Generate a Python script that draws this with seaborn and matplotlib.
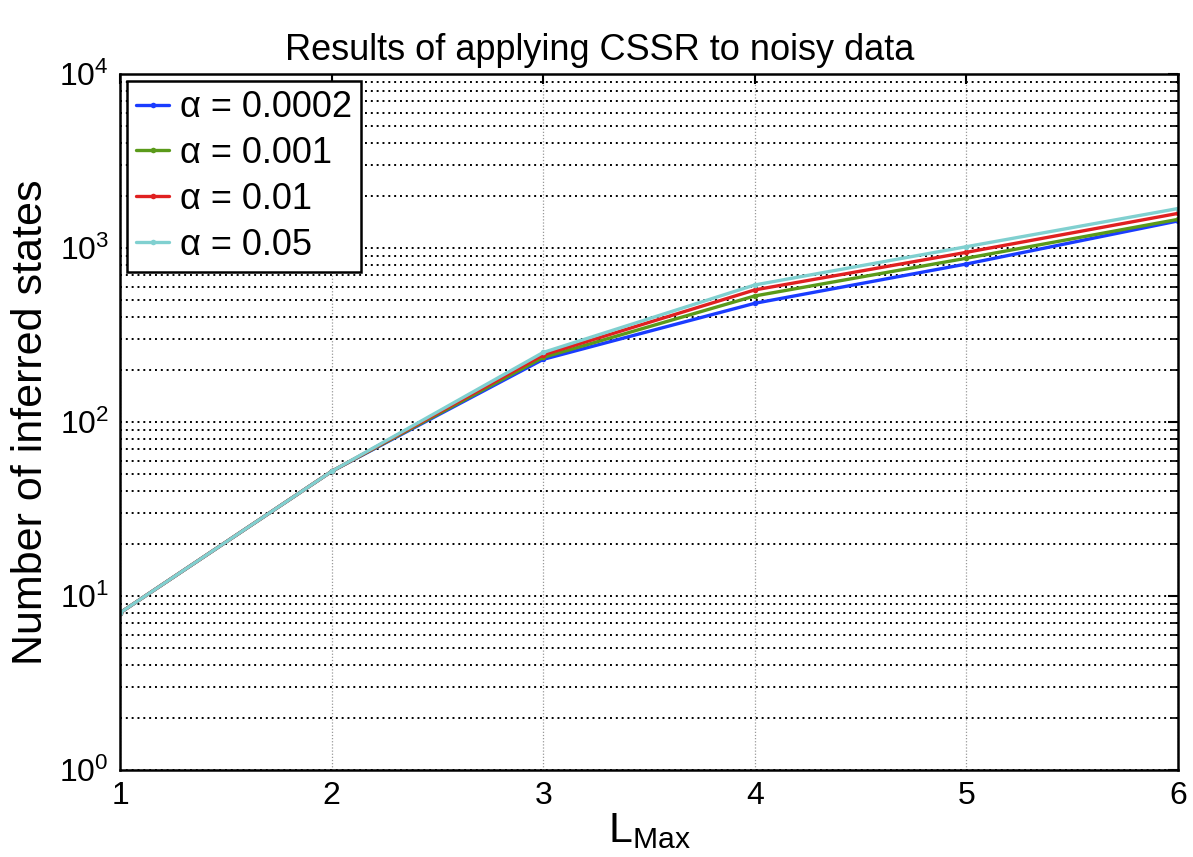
import numpy as np
import pandas as pd
import seaborn as sns
import matplotlib
matplotlib.use("Agg")
import matplotlib.pyplot as plt
from matplotlib.ticker import LogLocator, NullFormatter

# values
l_max = [1, 2, 3, 4, 5, 6]
alpha_labels = ["α = 0.0002", "α = 0.001", "α = 0.01", "α = 0.05"]
states_a0002 = [8, 52, 229, 481, 809, 1430]
states_a001 = [8, 52, 235, 530, 873, 1460]
states_a01 = [8, 52, 243, 574, 944, 1580]
states_a05 = [8, 52, 251, 613, 1017, 1685]
line_colors = ["#1a3cff", "#5a9a1a", "#e02020", "#80d0d0"]

rows = []
for label, vals in zip(alpha_labels, [states_a0002, states_a001, states_a01, states_a05]):
    for x, y in zip(l_max, vals):
        rows.append({"L": x, "states": y, "alpha": label})
df = pd.DataFrame(rows)

sns.set_theme(style="white")
plt.rcParams["font.family"] = ["Liberation Sans", "DejaVu Sans"]
plt.rcParams["mathtext.fontset"] = "custom"
plt.rcParams["mathtext.rm"] = "Liberation Sans"
plt.rcParams["text.color"] = "black"
plt.rcParams["axes.labelcolor"] = "black"
plt.rcParams["xtick.color"] = "black"
plt.rcParams["ytick.color"] = "black"

fig = plt.figure(figsize=(11.93, 8.57), dpi=100)
ax = fig.add_axes([0.1006, 0.1015, 0.8868, 0.8122])

sns.lineplot(data=df, x="L", y="states", hue="alpha", palette=line_colors,
             marker="o", markersize=4, markeredgewidth=0, linewidth=2.4, ax=ax)

ax.set_yscale("log")
ax.set_xlim(1, 6)
ax.set_ylim(1, 1e4)
ax.set_xticks(l_max)
ax.yaxis.set_major_locator(LogLocator(base=10, numticks=10))
ax.yaxis.set_minor_locator(LogLocator(base=10, subs=np.arange(2, 10), numticks=20))
ax.yaxis.set_minor_formatter(NullFormatter())

ax.grid(True, axis="y", which="both", color="black", linestyle=(0, (1, 2)), linewidth=1.4)
ax.grid(True, axis="x", which="major", color="#999999", linestyle=(0, (1, 1.5)), linewidth=0.9)

ax.tick_params(axis="both", which="major", direction="in", length=7, width=1.5,
               labelsize=23, top=True, right=True, pad=8)
ax.tick_params(axis="y", which="minor", direction="in", length=4, width=1.2, right=True)
for sp in ax.spines.values():
    sp.set_linewidth(1.8)
    sp.set_color("black")

ax.set_title("Results of applying CSSR to noisy data", fontsize=26, pad=10, x=0.453)
ax.set_xlabel(r"$\mathregular{L_{Max}}$", fontsize=31, labelpad=0)
ax.set_ylabel("Number of inferred states", fontsize=31, labelpad=6)

leg = ax.legend(loc="upper left", fontsize=26, frameon=True, fancybox=False, framealpha=1,
                handlelength=0.9, handletextpad=0.3, borderpad=0.25,
                labelspacing=0.3, borderaxespad=0.2, title=None)
leg.get_frame().set_edgecolor("black")
leg.get_frame().set_linewidth(1.8)

fig.savefig("out.png", dpi=100)
